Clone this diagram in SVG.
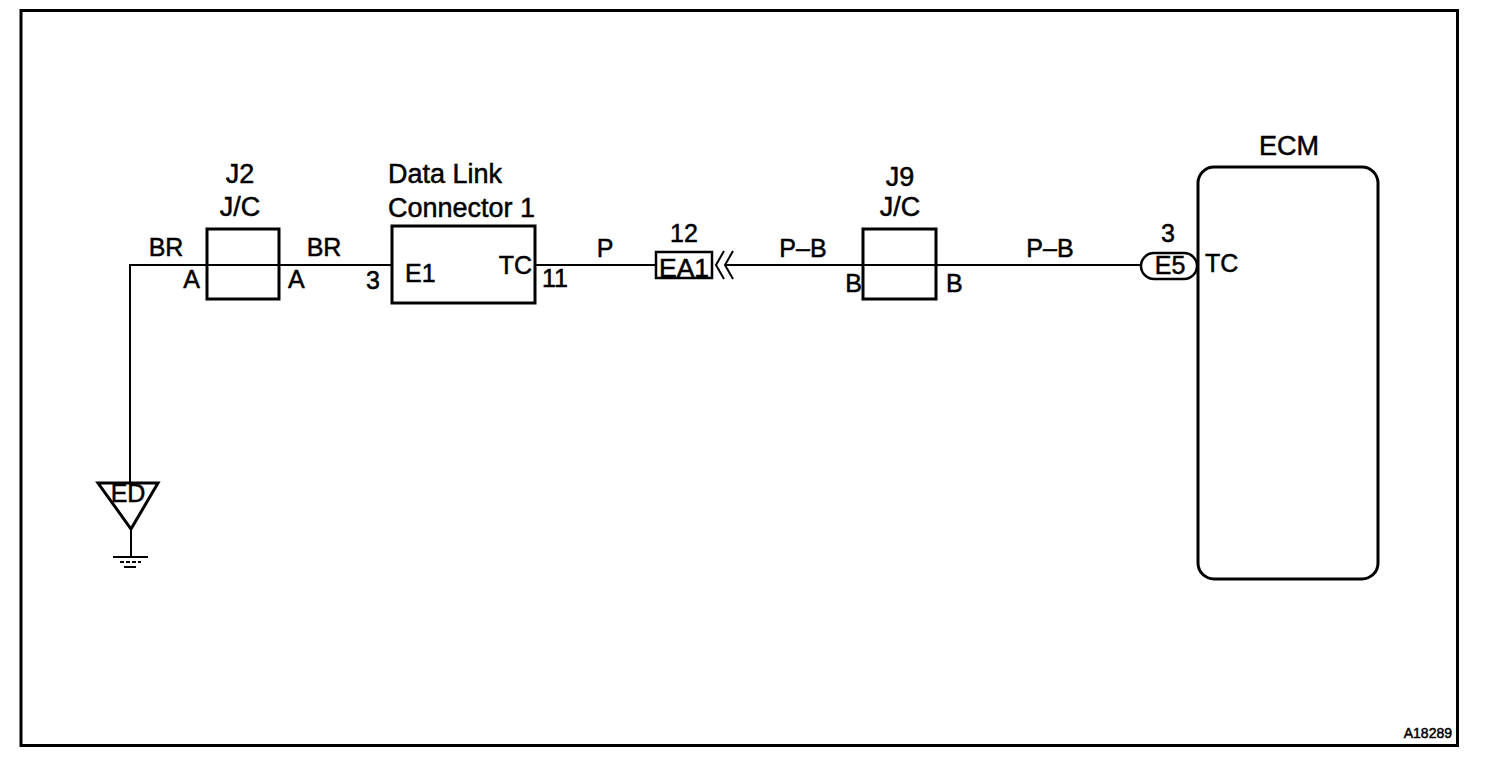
<svg xmlns="http://www.w3.org/2000/svg" width="1504" height="768" viewBox="0 0 1504 768">
<style>
.t{font-family:"Liberation Sans",Arial,sans-serif;fill:#000;stroke:#000;stroke-width:0.5}
.h{font-size:27px}
.p{font-size:25px}
.box{fill:none;stroke:#000;stroke-width:3}
.w{fill:none;stroke:#000;stroke-width:2}
</style>
<rect x="0" y="0" width="1504" height="768" fill="#fff"/>
<rect id="frame" x="21" y="10.5" width="1436.5" height="735" fill="none" stroke="#000" stroke-width="3"/>
<g id="connectors">
<polyline class="w" points="130,483 130,265 391,265"/>
<line class="w" x1="535" y1="265" x2="656" y2="265"/>
<line class="w" x1="725" y1="265" x2="937" y2="265"/>
<line class="w" x1="937" y1="265" x2="1141" y2="265"/>
<polyline class="w" points="724,251 716,265 724,279"/>
<polyline class="w" points="733,251 725,265 733,279"/>
</g>
<g id="ground-ED">
<polygon class="box" points="98,483 158,483 131,529"/>
<text class="t p" x="128" y="502" text-anchor="middle">ED</text>
<line class="w" x1="131" y1="529" x2="131" y2="557"/>
<line class="w" x1="113" y1="557" x2="148" y2="557"/>
<line class="w" x1="120" y1="562" x2="141" y2="562" stroke-dasharray="4,2"/>
<line class="w" x1="124" y1="567" x2="136" y2="567"/>
</g>
<g id="J2">
<rect class="box" x="207" y="229" width="72" height="70"/>
<text class="t h" x="240" y="183" text-anchor="middle">J2</text>
<text class="t h" x="240" y="216" text-anchor="middle">J/C</text>
<text class="t p" x="166" y="256" text-anchor="middle">BR</text>
<text class="t p" x="200" y="288" text-anchor="end">A</text>
<text class="t p" x="324" y="256" text-anchor="middle">BR</text>
<text class="t p" x="288" y="288">A</text>
</g>
<g id="DLC1">
<rect class="box" x="392" y="226" width="143" height="77"/>
<text class="t h" x="388" y="183">Data Link</text>
<text class="t h" x="388" y="217">Connector 1</text>
<text class="t p" x="405" y="282">E1</text>
<text class="t p" x="532" y="274" text-anchor="end">TC</text>
<text class="t p" x="373" y="289" text-anchor="middle">3</text>
<text class="t p" x="555" y="287" text-anchor="middle">11</text>
<text class="t p" x="605" y="257" text-anchor="middle">P</text>
</g>
<g id="EA1">
<rect x="656" y="252" width="56" height="26" fill="#fff" stroke="#000" stroke-width="2.5"/>
<text class="t p" x="684" y="277" text-anchor="middle" textLength="50" lengthAdjust="spacingAndGlyphs">EA1</text>
<text class="t p" x="684" y="242" text-anchor="middle">12</text>
<text class="t p" x="803" y="257" text-anchor="middle">P–B</text>
</g>
<g id="J9">
<rect class="box" x="863" y="229" width="73" height="70"/>
<text class="t h" x="900" y="186" text-anchor="middle">J9</text>
<text class="t h" x="900" y="216" text-anchor="middle">J/C</text>
<text class="t p" x="862" y="292" text-anchor="end">B</text>
<text class="t p" x="946" y="292">B</text>
<text class="t p" x="1050" y="257" text-anchor="middle">P–B</text>
</g>
<g id="ECM">
<rect class="box" x="1198" y="167" width="180" height="412" rx="16" ry="16"/>
<text class="t h" x="1289" y="155" text-anchor="middle">ECM</text>
<rect x="1141" y="253" width="56" height="26" rx="13" ry="13" fill="#fff" stroke="#000" stroke-width="2.5"/>
<text class="t p" x="1170" y="274" text-anchor="middle">E5</text>
<text class="t p" x="1168" y="242" text-anchor="middle">3</text>
<text class="t p" x="1205" y="272">TC</text>
</g>
<text class="t" x="1452" y="738" text-anchor="end" font-size="14">A18289</text>
</svg>
